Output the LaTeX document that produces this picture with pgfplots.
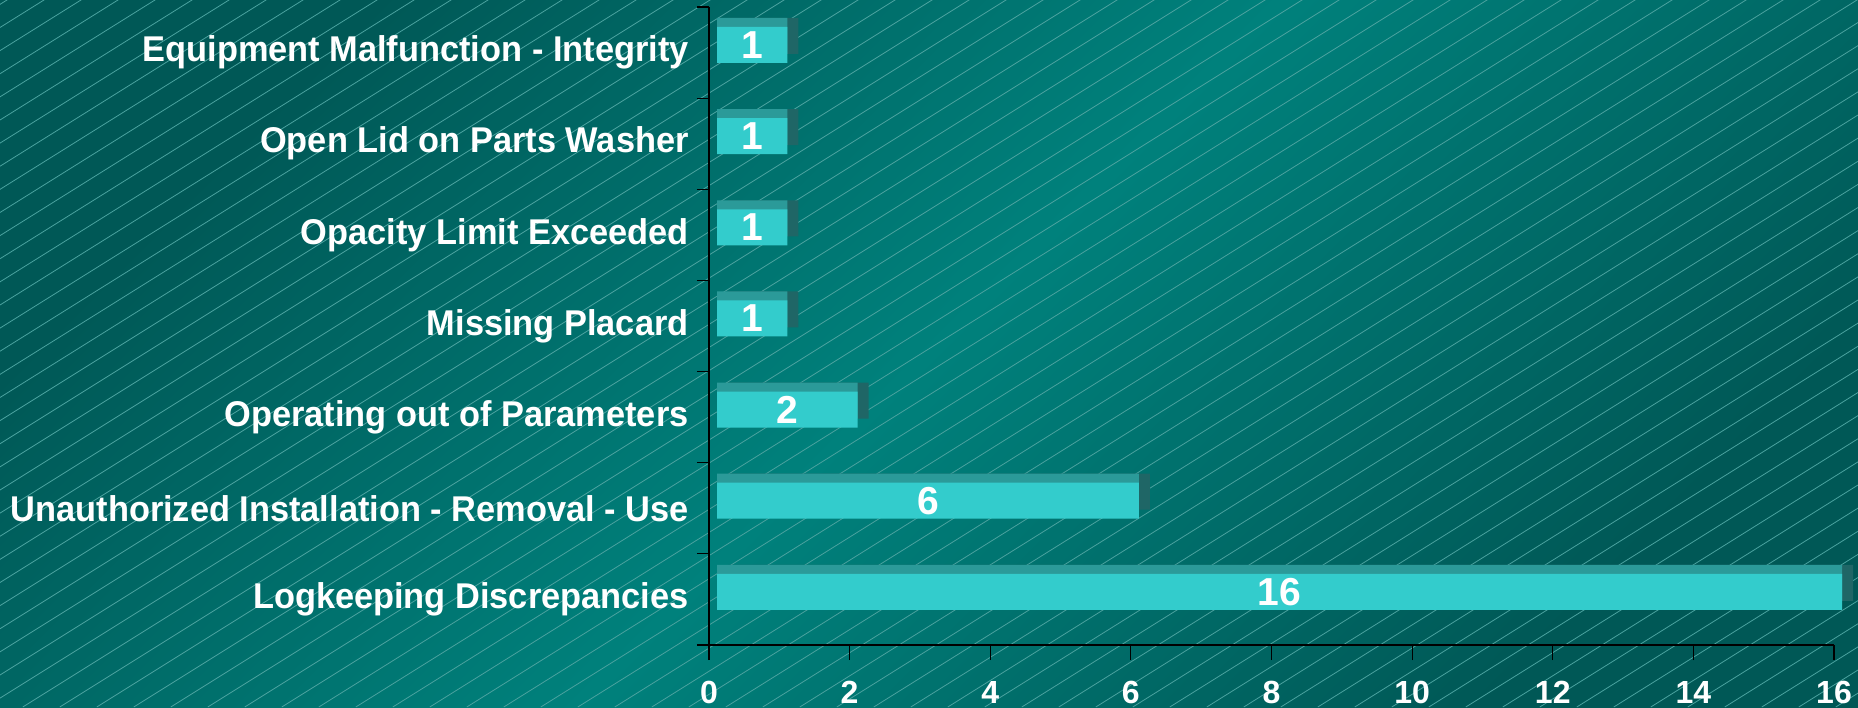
\documentclass[border=0pt]{standalone}
\usepackage{fontspec}
\setmainfont{Liberation Sans}
\newfontfamily\labelfont[FakeStretch=0.96]{Liberation Sans}
\usepackage{pgfplots}
\pgfplotsset{compat=1.18}
\usepackage{pgfplotstable}
\definecolor{bgdark}{HTML}{005856}
\definecolor{bglight}{HTML}{00817C}
\definecolor{hatch}{HTML}{4AA29F}
\definecolor{facec}{HTML}{33CCCC}
\definecolor{topc}{HTML}{2B9A99}
\definecolor{sidec}{HTML}{1F6666}

\pgfplotstableread{
y v
0 16
1 6
2 2
3 1
4 1
5 1
6 1
}\datatable

\begin{document}
\begin{tikzpicture}
\shade[shading=axis, top color=bgdark, bottom color=bgdark, middle color=bglight, shading angle=45] (0,0) rectangle (929pt,353.5pt);
\begin{scope}
\clip (0,0) rectangle (929pt,353.5pt);
\foreach \i in {-32,...,51} \draw[hatch, line width=0.4pt] (11.4pt+\i*18.5pt,0) -- ++(600pt,375pt);
\end{scope}
\begin{axis}[
  at={(354.5pt,31pt)}, anchor=south west,
  scale only axis, width=562.5pt, height=319pt,
  xmin=0, xmax=16, ymin=-0.5, ymax=6.5,
  axis x line*=bottom, axis y line*=left,
  axis line style={black, line width=0.6pt},
  tick align=outside,
  major tick length=7.5pt,
  xtick={0,2,...,16},
  every tick/.style={black, line width=0.6pt},
  /pgf/number format/assume math mode=true,
  xticklabel style={font=\fontsize{16}{16}\selectfont\bfseries, text=white, inner sep=0pt, yshift=-10.5pt},
  ytick={0,...,6},
  ytick style={draw=none},
  yticklabels={Logkeeping Discrepancies, Unauthorized Installation - Removal - Use, Operating out of Parameters, Missing Placard, Opacity Limit Exceeded, Open Lid on Parts Washer, Equipment Malfunction - Integrity},
  yticklabel style={font=\labelfont\fontsize{17.9}{17.9}\selectfont\bfseries, text=white, inner sep=0pt, xshift=-2.5pt},
  extra y ticks={-0.5,0.5,...,6.5},
  extra y tick labels={},
  extra y tick style={major tick length=6pt, ytick style={draw=black}},
  clip=false,
]
\addplot[xbar, bar width=18pt, bar shift=8.3pt, xshift=9.5pt, fill=sidec, draw=none] table[x=v, y=y] {\datatable};
\addplot[xbar, bar width=18pt, bar shift=8.3pt, xshift=4pt, fill=topc, draw=none] table[x=v, y=y] {\datatable};
\addplot[xbar, bar width=18pt, bar shift=3.8pt, xshift=4pt, fill=facec, draw=none] table[x=v, y=y] {\datatable};
\addplot[draw=none, mark=none, point meta=explicit,
  nodes near coords,
  every node near coord/.style={anchor=center, xshift=4pt, yshift=3.8pt, text=white, font=\fontsize{19.5}{19.5}\selectfont\bfseries}]
  table[x expr=\thisrow{v}/2, y=y, meta=v] {\datatable};
\end{axis}
\pgfresetboundingbox
\useasboundingbox (0,0) rectangle (929pt,353.5pt);
\end{tikzpicture}
\end{document}
